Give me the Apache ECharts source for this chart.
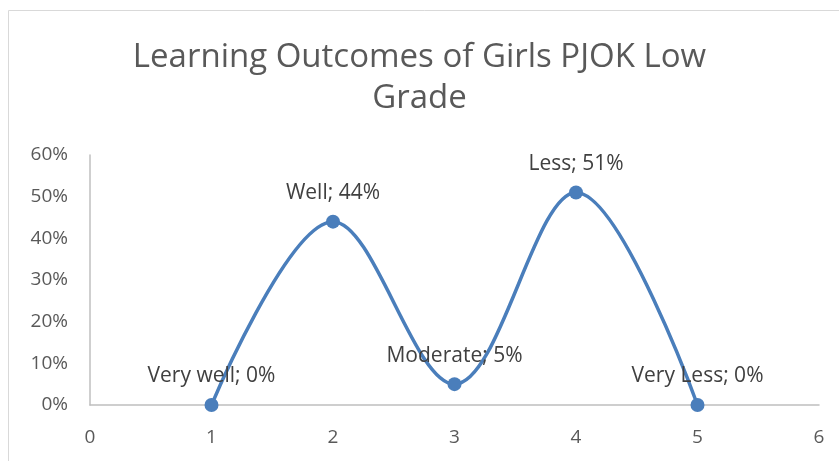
<!DOCTYPE html>
<html>
<head>
<meta charset="utf-8">
<script src="https://cdn.jsdelivr.net/npm/echarts@6/dist/echarts.min.js"></script>
<style>
  html, body { margin: 0; padding: 0; background: #fff; }
  #chart { width: 839px; height: 461px; }
</style>
</head>
<body>
<div id="chart"></div>
<script>
const titleText = 'Learning Outcomes of Girls PJOK Low\nGrade';
const categories = ['Very well', 'Well', 'Moderate', 'Less', 'Very Less'];
const xValues = [1, 2, 3, 4, 5];
const percentValues = [0, 0.44, 0.05, 0.51, 0];

const font = '"Open Sans", Lato, sans-serif';
const chart = echarts.init(document.getElementById('chart'));

const points = xValues.map((x, i) => ({ value: [x, percentValues[i]], name: categories[i] }));

chart.setOption({
  animation: false,
  title: {
    text: titleText,
    left: 'center',
    top: 32,
    textStyle: { fontFamily: font, fontWeight: 'normal', fontSize: 33, color: '#595959', lineHeight: 41 }
  },
  graphic: [{
    type: 'rect',
    shape: { x: 8.5, y: 10.5, width: 900, height: 500 },
    style: { fill: null, stroke: '#d9d9d9', lineWidth: 1 },
    silent: true
  }],
  grid: { left: 90, right: 20, top: 155, bottom: 56 },
  xAxis: {
    type: 'value',
    min: 0, max: 6, interval: 1,
    axisLine: { show: true, lineStyle: { color: '#bfbfbf', width: 1.5 } },
    axisTick: { show: false },
    splitLine: { show: false },
    axisLabel: { margin: 23, fontFamily: font, fontSize: 19, color: '#595959' }
  },
  yAxis: {
    type: 'value',
    min: 0, max: 0.6, interval: 0.1,
    axisLine: { show: true, lineStyle: { color: '#bfbfbf', width: 1.5 } },
    axisTick: { show: false },
    splitLine: { show: false },
    axisLabel: {
      margin: 22, fontFamily: font, fontSize: 19, color: '#595959',
      formatter: v => Math.round(v * 100) + '%'
    }
  },
  series: [{
    type: 'line',
    data: points,
    smooth: 0.35,
    symbol: 'circle',
    symbolSize: 14,
    lineStyle: { color: '#4a7ebb', width: 3.5 },
    itemStyle: { color: '#4a7ebb' },
    label: {
      show: true,
      position: 'top',
      distance: 11,
      fontFamily: font,
      fontSize: 21,
      color: '#404040',
      formatter: p => p.name + '; ' + Math.round(p.value[1] * 100) + '%'
    }
  }]
});
</script>
</body>
</html>
